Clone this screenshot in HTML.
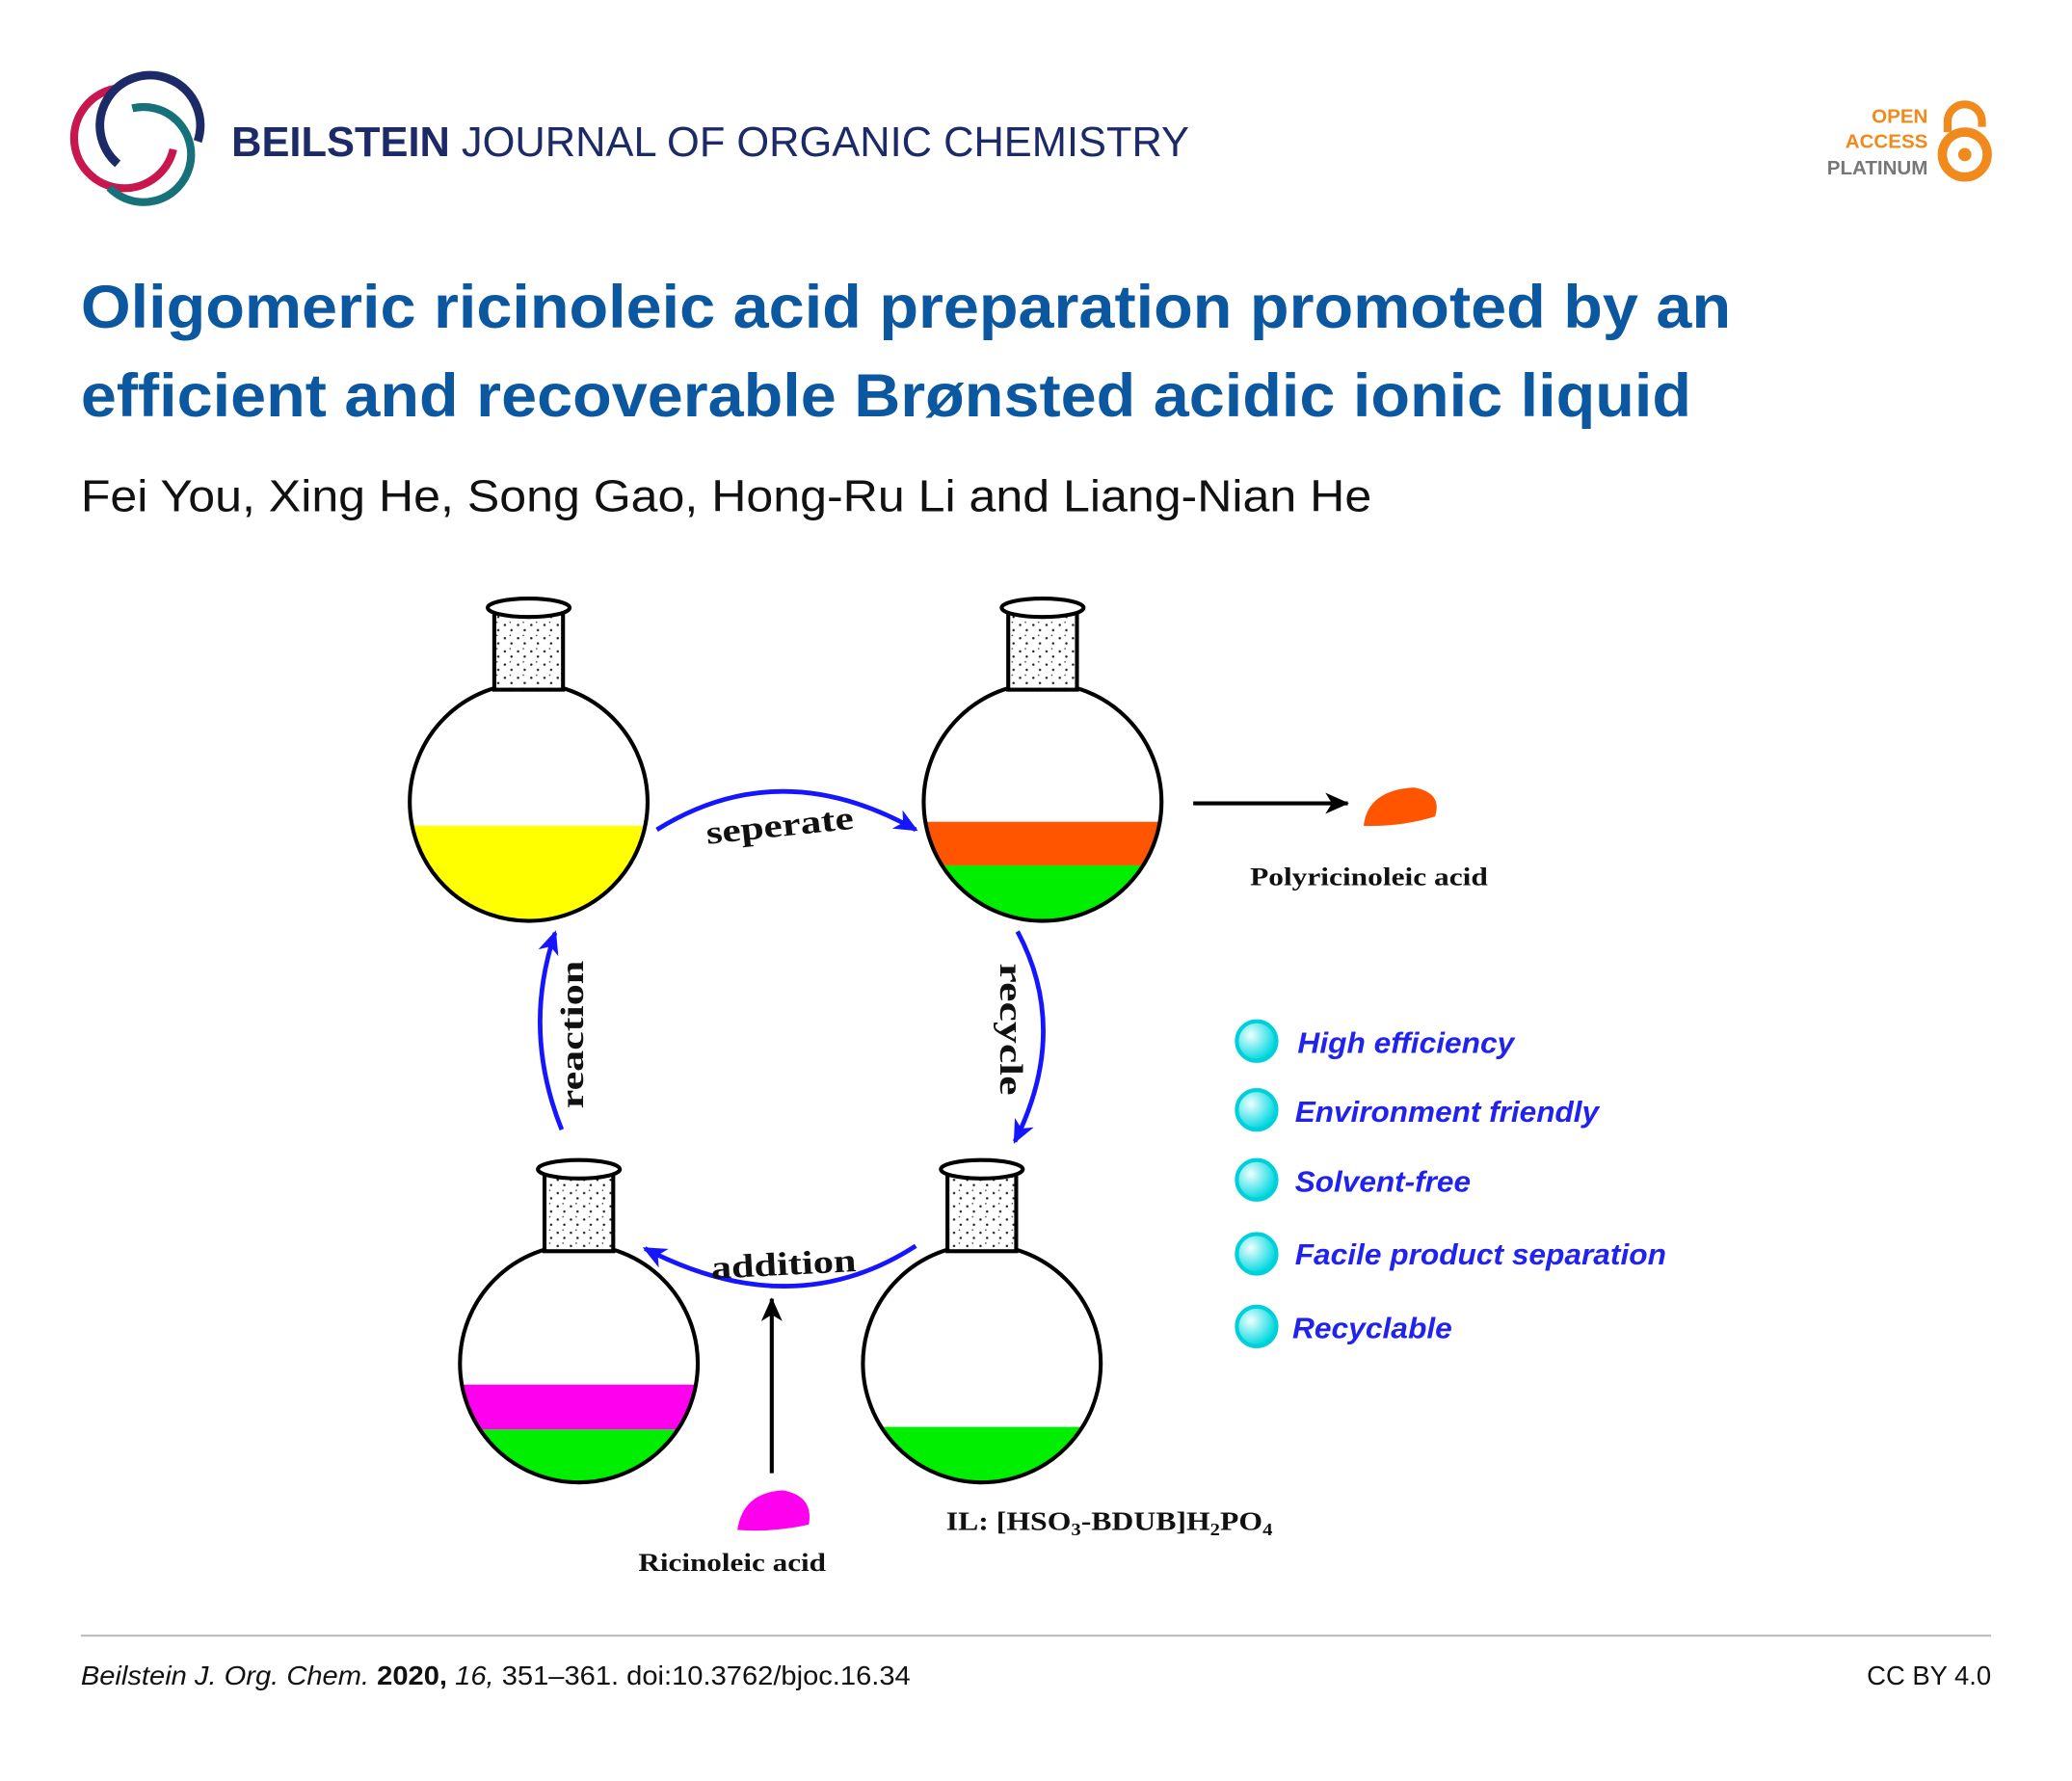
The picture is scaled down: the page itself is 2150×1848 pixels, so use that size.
<!DOCTYPE html>
<html><head><meta charset="utf-8"><style>
html,body{margin:0;padding:0;background:#fff;}
svg{display:block;}
</style></head><body>
<svg width="2150" height="1848" viewBox="0 0 1568 1348" xmlns="http://www.w3.org/2000/svg">
<defs>
<pattern id="dots" width="10" height="10" patternUnits="userSpaceOnUse">
<rect width="10" height="10" fill="#fff"/>
<circle cx="2" cy="3" r="0.9" fill="#222"/><circle cx="7" cy="7" r="0.9" fill="#222"/><circle cx="6" cy="1" r="0.6" fill="#444"/>
</pattern>
<marker id="ab" markerWidth="20" markerHeight="16" refX="16" refY="8" orient="auto" markerUnits="userSpaceOnUse"><path d="M0,0 L18,8 L0,16 L5,8Z" fill="#1515ff"/></marker>
<marker id="ak" markerWidth="20" markerHeight="16" refX="17" refY="8" orient="auto" markerUnits="userSpaceOnUse"><path d="M0,0 L18,8 L0,16 L5,8Z" fill="#000"/></marker>
<clipPath id="c1"><circle cx="400" cy="607" r="90"/></clipPath>
<clipPath id="c2"><circle cx="789" cy="607" r="90"/></clipPath>
<clipPath id="c3"><circle cx="438" cy="1032" r="90"/></clipPath>
<clipPath id="c4"><circle cx="743" cy="1032" r="90"/></clipPath>
<radialGradient id="cy" cx="0.35" cy="0.35" r="0.65"><stop offset="0" stop-color="#f0ffff"/><stop offset="1" stop-color="#00d8e0"/></radialGradient>
</defs>
<!-- logo -->
<path d="M87.5,67 A38,38 0 1 0 131,113" fill="none" stroke="#c8174f" stroke-width="6"/>
<path d="M89,124 A38,38 0 1 1 149.5,107" fill="none" stroke="#1c2a68" stroke-width="6.5"/>
<path d="M100,82 A36,36 0 1 1 82.6,142" fill="none" stroke="#17717a" stroke-width="6"/>
<text x="175" y="118" font-family="Liberation Sans, sans-serif" font-size="32" fill="#1c2a68" textLength="725" lengthAdjust="spacingAndGlyphs"><tspan font-weight="bold">BEILSTEIN</tspan> JOURNAL OF ORGANIC CHEMISTRY</text>
<g font-family="Liberation Sans, sans-serif" font-size="15" font-weight="bold" text-anchor="end">
<text x="1459" y="93" fill="#f08a1c">OPEN</text>
<text x="1459" y="112" fill="#f08a1c">ACCESS</text>
<text x="1459" y="132" fill="#777">PLATINUM</text>
</g>
<path d="M1474,100 V92 A13,13 0 0 1 1500,92 V96" fill="none" stroke="#f08a1c" stroke-width="6"/>
<circle cx="1487" cy="117" r="17" fill="none" stroke="#f08a1c" stroke-width="7"/>
<circle cx="1487" cy="117" r="5" fill="#f08a1c"/>
<g font-family="Liberation Sans, sans-serif" font-weight="bold" font-size="46" fill="#0b57a0">
<text x="61" y="248" textLength="1249" lengthAdjust="spacingAndGlyphs">Oligomeric ricinoleic acid preparation promoted by an</text>
<text x="61" y="315" textLength="1219" lengthAdjust="spacingAndGlyphs">efficient and recoverable Brønsted acidic ionic liquid</text>
</g>
<text x="61" y="387" font-family="Liberation Sans, sans-serif" font-size="34" fill="#111" textLength="977" lengthAdjust="spacingAndGlyphs">Fei You, Xing He, Song Gao, Hong-Ru Li and Liang-Nian He</text>

<!-- flasks -->
<g stroke="#000" stroke-width="3">
<g clip-path="url(#c1)"><rect x="300" y="625" width="200" height="100" fill="#ffff00" stroke="none"/></g>
<circle cx="400" cy="607" r="90" fill="none"/>
<rect x="374" y="460" width="52" height="62" fill="url(#dots)"/><ellipse cx="400" cy="460" rx="31" ry="7" fill="#fff"/>
<g clip-path="url(#c2)"><rect x="690" y="622" width="200" height="33" fill="#ff5500" stroke="none"/><rect x="690" y="655" width="200" height="60" fill="#00ee00" stroke="none"/></g>
<circle cx="789" cy="607" r="90" fill="none"/>
<rect x="763" y="460" width="52" height="62" fill="url(#dots)"/><ellipse cx="789" cy="460" rx="31" ry="7" fill="#fff"/>
<g clip-path="url(#c3)"><rect x="340" y="1048" width="200" height="34" fill="#ff00ee" stroke="none"/><rect x="340" y="1082" width="200" height="60" fill="#00ee00" stroke="none"/></g>
<circle cx="438" cy="1032" r="90" fill="none"/>
<rect x="412" y="885" width="52" height="62" fill="url(#dots)"/><ellipse cx="438" cy="885" rx="31" ry="7" fill="#fff"/>
<g clip-path="url(#c4)"><rect x="645" y="1080" width="200" height="60" fill="#00ee00" stroke="none"/></g>
<circle cx="743" cy="1032" r="90" fill="none"/>
<rect x="717" y="885" width="52" height="62" fill="url(#dots)"/><ellipse cx="743" cy="885" rx="31" ry="7" fill="#fff"/>
</g>
<!-- arrows -->
<g fill="none" stroke="#1515ff" stroke-width="3.5">
<path d="M497,628 Q590,570 693,628" marker-end="url(#ab)"/>
<path d="M770,705 Q810,780 768,864" marker-end="url(#ab)"/>
<path d="M693,943 Q600,1003 488,945" marker-end="url(#ab)"/>
<path d="M425,855 Q395,780 420,706" marker-end="url(#ab)"/>
</g>
<path d="M903,608 H1020" stroke="#000" stroke-width="3" marker-end="url(#ak)"/>
<path d="M584,1115 V983" stroke="#000" stroke-width="3" marker-end="url(#ak)"/>
<path d="M1032,625 Q1035,598 1070,596 Q1092,600 1086,618 Q1060,626 1032,625Z" fill="#ff5500"/>
<path d="M558,1158 Q562,1130 592,1128 Q616,1132 612,1154 Q585,1160 558,1158Z" fill="#ff00ee"/>
<g font-family="Liberation Serif, serif" font-weight="bold" fill="#111">
<text x="590" y="633" font-size="25" text-anchor="middle" textLength="112" lengthAdjust="spacingAndGlyphs" transform="rotate(-6 590 625)">seperate</text>
<text x="593" y="965" font-size="25" text-anchor="middle" textLength="110" lengthAdjust="spacingAndGlyphs" transform="rotate(-3 593 958)">addition</text>
<text x="0" y="0" font-size="25" text-anchor="middle" textLength="100" lengthAdjust="spacingAndGlyphs" transform="translate(757,779) rotate(90)">recycle</text>
<text x="0" y="0" font-size="25" text-anchor="middle" textLength="112" lengthAdjust="spacingAndGlyphs" transform="translate(441,783) rotate(-90)">reaction</text>
<text x="946" y="670" font-size="19" textLength="180" lengthAdjust="spacingAndGlyphs">Polyricinoleic acid</text>
<text x="483" y="1189" font-size="19" textLength="142" lengthAdjust="spacingAndGlyphs">Ricinoleic acid</text>
<text x="716" y="1158" font-size="20" textLength="247" lengthAdjust="spacingAndGlyphs">IL: [HSO<tspan font-size="13" dy="4">3</tspan><tspan dy="-4">-BDUB]H</tspan><tspan font-size="13" dy="4">2</tspan><tspan dy="-4">PO</tspan><tspan font-size="13" dy="4">4</tspan></text>
</g>
<g stroke="#00d0d8" stroke-width="3">
<circle cx="951" cy="788" r="15" fill="url(#cy)"/>
<circle cx="951" cy="840" r="15" fill="url(#cy)"/>
<circle cx="951" cy="893" r="15" fill="url(#cy)"/>
<circle cx="951" cy="949" r="15" fill="url(#cy)"/>
<circle cx="951" cy="1004" r="15" fill="url(#cy)"/>
</g>
<g font-family="Liberation Sans, sans-serif" font-weight="bold" font-style="italic" font-size="22" fill="#2222ee">
<text x="982" y="797" textLength="164" lengthAdjust="spacingAndGlyphs">High efficiency</text>
<text x="980" y="849" textLength="230" lengthAdjust="spacingAndGlyphs">Environment friendly</text>
<text x="980" y="902" textLength="133" lengthAdjust="spacingAndGlyphs">Solvent-free</text>
<text x="980" y="957" textLength="281" lengthAdjust="spacingAndGlyphs">Facile product separation</text>
<text x="978" y="1013" textLength="121" lengthAdjust="spacingAndGlyphs">Recyclable</text>
</g>
<line x1="61" y1="1238" x2="1507" y2="1238" stroke="#bbb" stroke-width="1.5"/>
<text x="61" y="1275" font-family="Liberation Sans, sans-serif" font-size="20" fill="#111" textLength="628" lengthAdjust="spacingAndGlyphs"><tspan font-style="italic">Beilstein J. Org. Chem.</tspan> <tspan font-weight="bold">2020,</tspan> <tspan font-style="italic">16,</tspan> 351–361. doi:10.3762/bjoc.16.34</text>
<text x="1507" y="1275" text-anchor="end" font-family="Liberation Sans, sans-serif" font-size="20" fill="#111">CC BY 4.0</text>
</svg>
</body></html>
